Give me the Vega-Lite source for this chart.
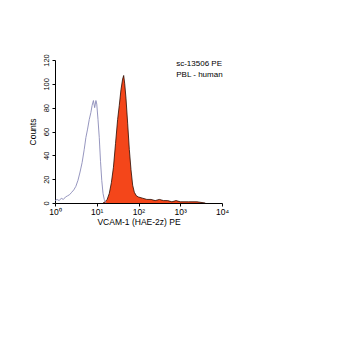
{
  "$schema": "https://vega.github.io/schema/vega-lite/v6.json",
  "autosize": "none",
  "width": 167,
  "height": 143,
  "padding": {"left": 55, "top": 60, "right": 128, "bottom": 147},
  "background": "white",
  "config": {
    "view": {"stroke": null},
    "font": "Liberation Sans",
    "axis": {"domainColor": "black", "tickColor": "black", "labelColor": "black", "titleColor": "black", "grid": false, "labelFont": "Liberation Sans", "titleFont": "Liberation Sans", "titleFontWeight": "normal", "labelOverlap": false}
  },
  "datasets": {
    "control": [
      {"x": 1.0, "c": 2}, {"x": 1.122, "c": 3}, {"x": 1.259, "c": 2}, {"x": 1.413, "c": 4},
      {"x": 1.585, "c": 3}, {"x": 1.778, "c": 5}, {"x": 1.995, "c": 6}, {"x": 2.239, "c": 7},
      {"x": 2.512, "c": 9}, {"x": 2.818, "c": 11}, {"x": 3.162, "c": 14}, {"x": 3.548, "c": 19},
      {"x": 3.981, "c": 26}, {"x": 4.467, "c": 34}, {"x": 5.012, "c": 45}, {"x": 5.495, "c": 55},
      {"x": 6.026, "c": 62}, {"x": 6.607, "c": 70}, {"x": 7.244, "c": 76}, {"x": 7.762, "c": 82},
      {"x": 8.318, "c": 86}, {"x": 8.913, "c": 80}, {"x": 9.55, "c": 86}, {"x": 10.0, "c": 83},
      {"x": 10.72, "c": 70}, {"x": 11.48, "c": 55}, {"x": 12.3, "c": 35}, {"x": 13.18, "c": 19},
      {"x": 14.13, "c": 8}, {"x": 15.14, "c": 3}, {"x": 16.6, "c": 0}
    ],
    "sample": [
      {"x": 14.13, "c": 0}, {"x": 15.85, "c": 1}, {"x": 17.78, "c": 3}, {"x": 19.95, "c": 8},
      {"x": 22.39, "c": 17}, {"x": 25.12, "c": 30}, {"x": 28.18, "c": 50}, {"x": 31.62, "c": 70},
      {"x": 34.67, "c": 82}, {"x": 38.02, "c": 95}, {"x": 41.69, "c": 104}, {"x": 44.16, "c": 107},
      {"x": 46.77, "c": 100}, {"x": 50.12, "c": 88}, {"x": 54.95, "c": 67}, {"x": 60.26, "c": 45},
      {"x": 66.07, "c": 28}, {"x": 72.44, "c": 15}, {"x": 79.43, "c": 9}, {"x": 89.13, "c": 6},
      {"x": 100, "c": 5}, {"x": 125.9, "c": 4}, {"x": 158.5, "c": 3}, {"x": 199.5, "c": 3},
      {"x": 251.2, "c": 2}, {"x": 316.2, "c": 3}, {"x": 398.1, "c": 2}, {"x": 501.2, "c": 2},
      {"x": 631.0, "c": 1}, {"x": 794.3, "c": 2}, {"x": 1000, "c": 1}, {"x": 1585, "c": 1},
      {"x": 2512, "c": 1}, {"x": 3981, "c": 0}
    ],
    "notes": [
      {"x": 800, "c": 117, "t": "sc-13506 PE"},
      {"x": 800, "c": 107.5, "t": "PBL - human"}
    ]
  },
  "encoding": {
    "x": {"field": "x", "type": "quantitative", "scale": {"type": "log", "domain": [1, 10000]},
      "axis": {"values": [1, 10, 100, 1000, 10000], "labelExpr": "'10' + ['⁰','¹','²','³','⁴'][round(log(datum.value)/LN10)]", "title": "VCAM-1 (HAE-2z) PE", "labelFontSize": 8.5, "titleFontSize": 8.5, "tickSize": 3, "labelPadding": 1, "titlePadding": 2, "labelFlush": false, "labelOverlap": false}},
    "y": {"field": "c", "type": "quantitative", "scale": {"domain": [0, 120], "nice": false},
      "axis": {"values": [0, 20, 40, 60, 80, 100, 120], "tickCount": 7, "title": "Counts", "labelAngle": -90, "labelAlign": "center", "labelBaseline": "bottom", "labelFontSize": 7.5, "titleFontSize": 8.5, "tickSize": 3, "labelPadding": 2, "titlePadding": 5, "labelOverlap": false}}
  },
  "layer": [
    {
      "data": {"name": "sample"},
      "mark": {"type": "area", "color": "#f4461a", "opacity": 1, "line": {"color": "#2a0a00", "strokeWidth": 0.8}, "interpolate": "linear"}
    },
    {
      "data": {"name": "control"},
      "mark": {"type": "line", "color": "#8a8ab8", "strokeWidth": 0.9}
    },
    {
      "data": {"name": "notes"},
      "mark": {"type": "text", "align": "left", "baseline": "middle", "fontSize": 8, "font": "Liberation Sans", "color": "black"},
      "encoding": {
        "text": {"field": "t"}
      }
    }
  ]
}
